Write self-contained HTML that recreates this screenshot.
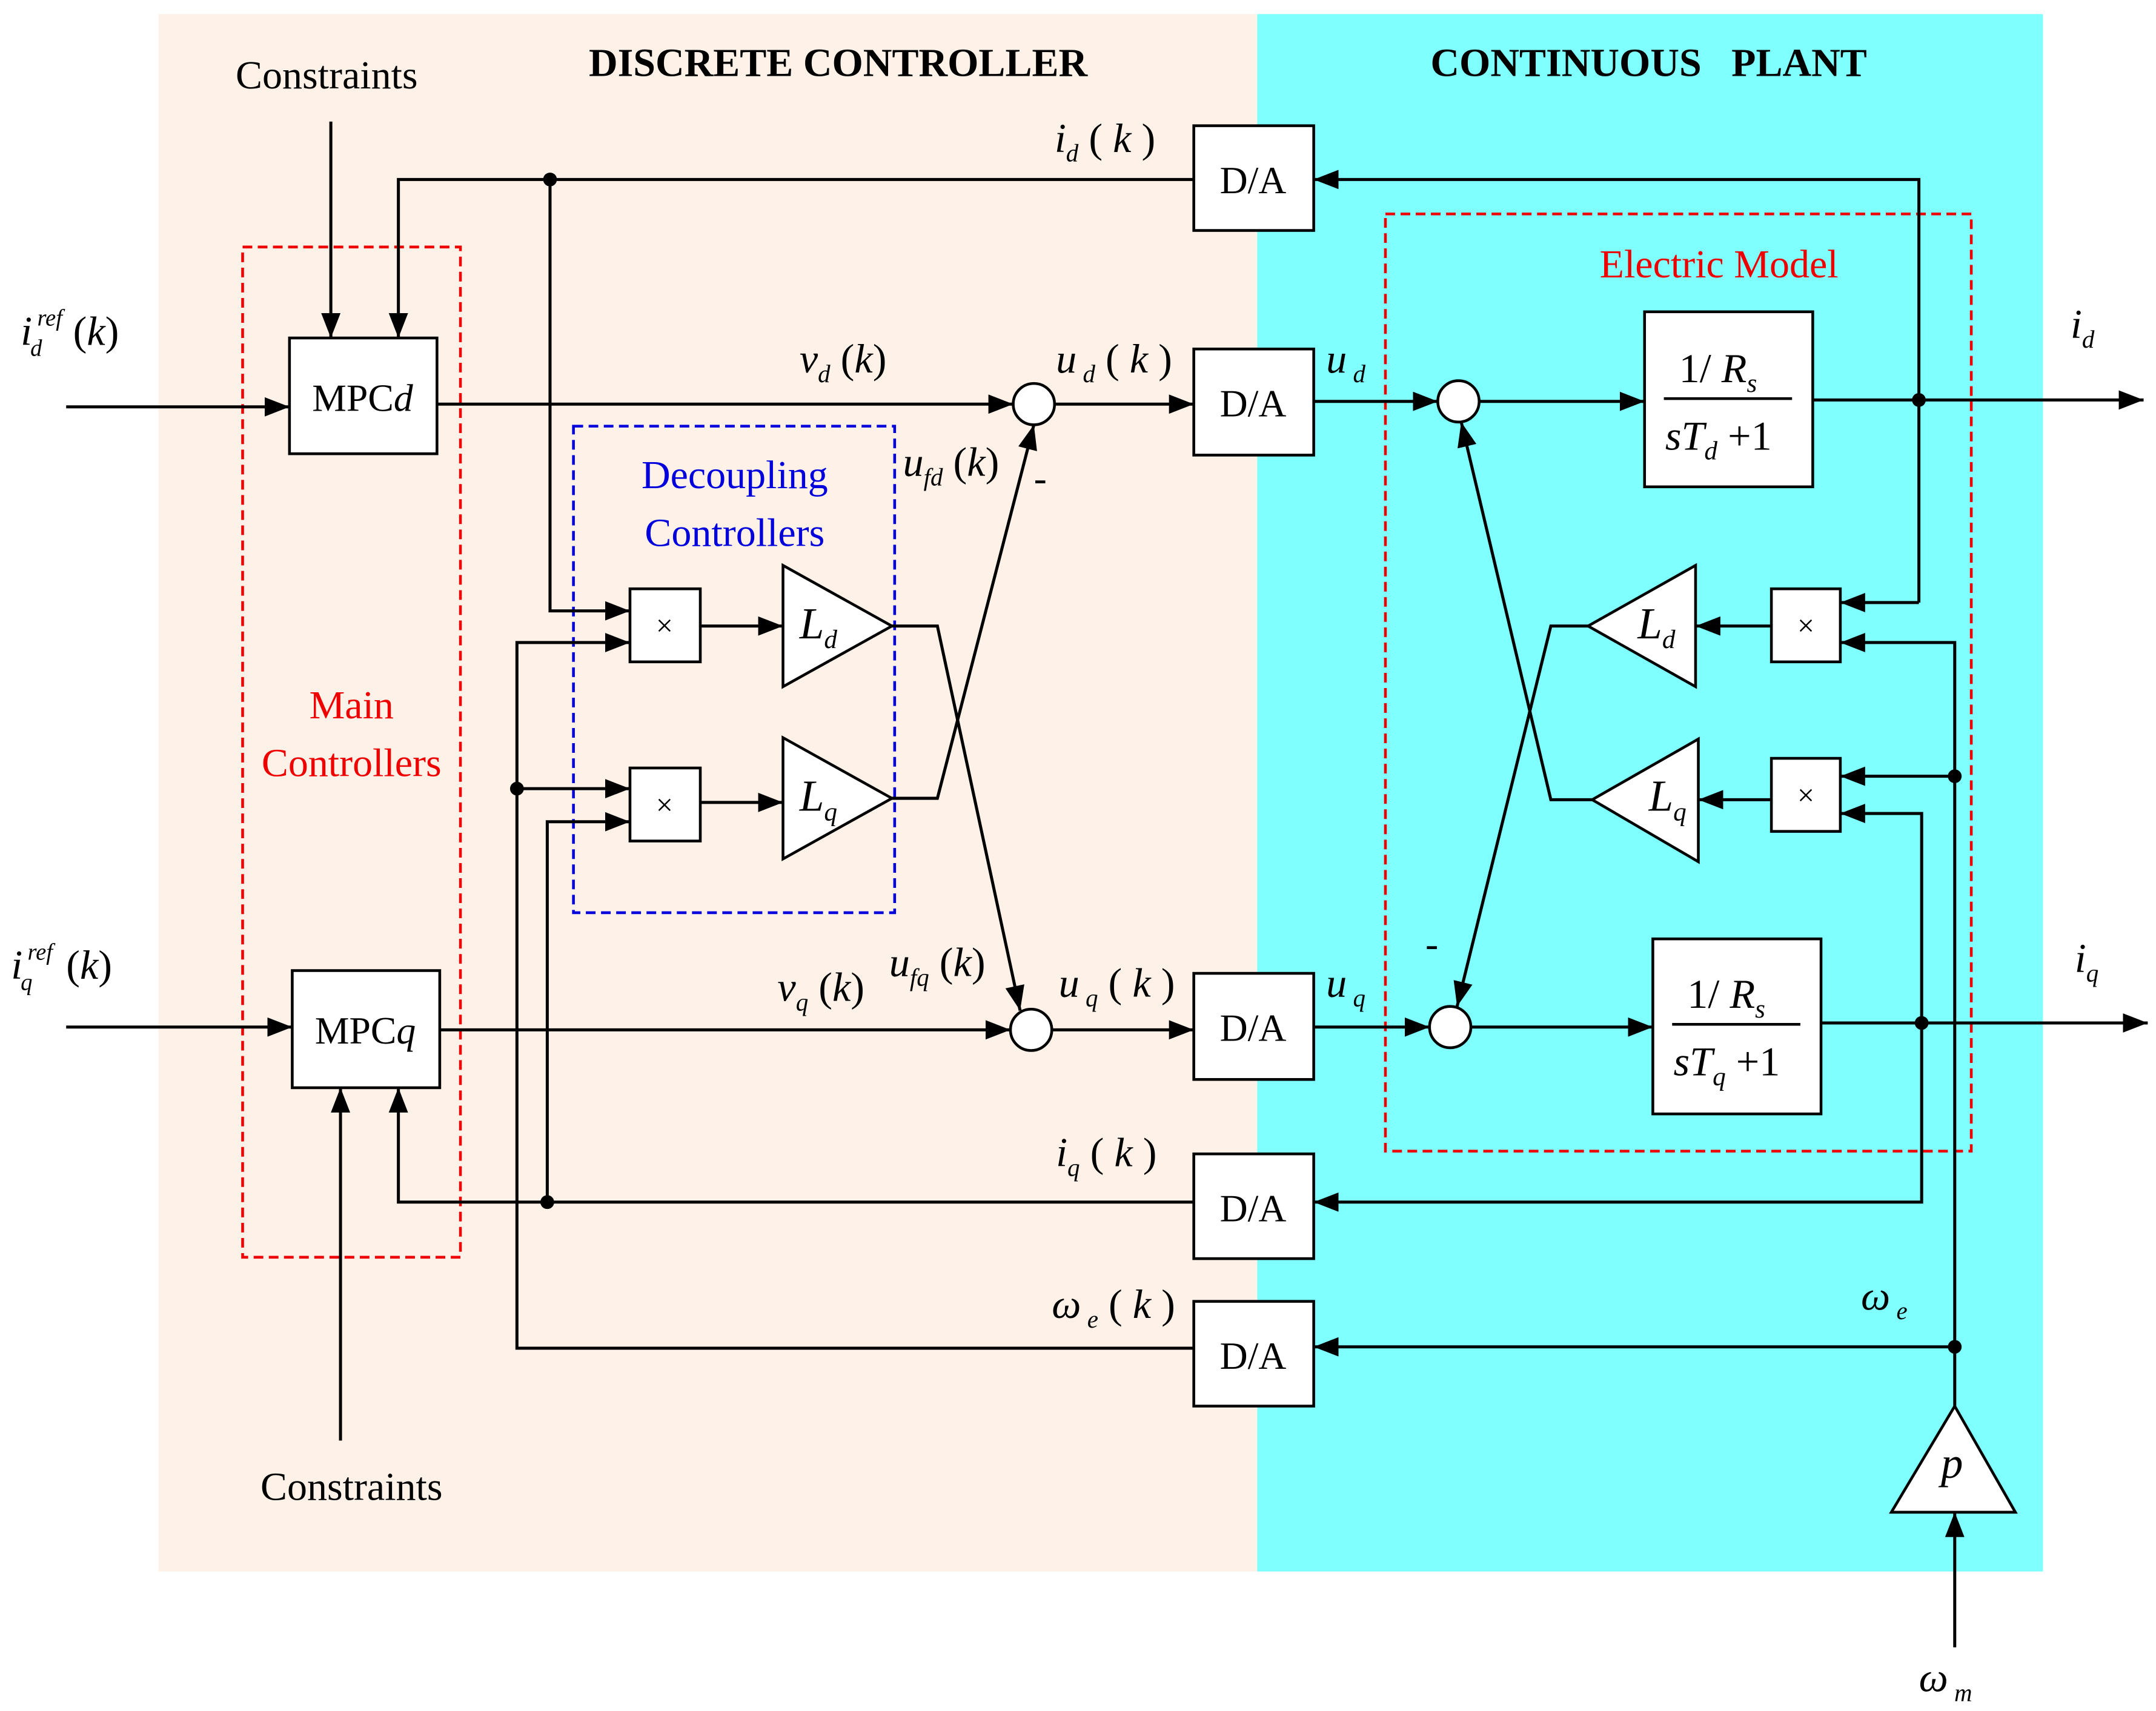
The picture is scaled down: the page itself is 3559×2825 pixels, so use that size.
<!DOCTYPE html>
<html><head><meta charset="utf-8"><style>html,body{margin:0;padding:0;background:#fff}svg{display:block}</style></head>
<body>
<svg width="3559" height="2825" viewBox="0 0 1564 1241" xmlns="http://www.w3.org/2000/svg" font-family="'Liberation Serif', serif">
<defs>
<marker id="a" markerUnits="userSpaceOnUse" markerWidth="20" markerHeight="14" refX="18" refY="7" orient="auto"><path d="M0,0 L18,7 L0,14 z" fill="#000"/></marker>
</defs>
<rect x="0" y="0" width="1564" height="1241" fill="#fff"/>
<rect x="115" y="10" width="797" height="1130" fill="#fdf1e8"/>
<rect x="912" y="10" width="570" height="1130" fill="#80ffff"/>

<g font-weight="bold" font-size="29" text-anchor="middle">
<text x="608" y="55">DISCRETE CONTROLLER</text>
<text x="1196" y="55" xml:space="preserve">CONTINUOUS   PLANT</text>
</g>

<g fill="none" stroke-width="2" stroke-dasharray="7,4">
<rect x="176" y="179" width="158" height="733" stroke="#e00"/>
<rect x="416" y="309" width="233" height="353" stroke="#00d"/>
<rect x="1005" y="155" width="425" height="680" stroke="#e00"/>
</g>

<g font-size="29" text-anchor="middle">
<text x="237" y="64">Constraints</text>
<text x="255" y="1088">Constraints</text>
<text x="255" y="521" fill="#e00">Main</text>
<text x="255" y="563" fill="#e00">Controllers</text>
<text x="533" y="354" fill="#00d">Decoupling</text>
<text x="533" y="396" fill="#00d">Controllers</text>
<text x="1247" y="201" fill="#e00">Electric Model</text>
</g>

<g fill="#fff" stroke="#000" stroke-width="2">
<rect x="210" y="245" width="107" height="84"/>
<rect x="212" y="704" width="107" height="85"/>
<rect x="866" y="91" width="87" height="76"/>
<rect x="866" y="253" width="87" height="77"/>
<rect x="866" y="706" width="87" height="77"/>
<rect x="866" y="837" width="87" height="76"/>
<rect x="866" y="944" width="87" height="76"/>
<rect x="1193" y="226" width="122" height="127"/>
<rect x="1199" y="681" width="122" height="127"/>
<rect x="457" y="427" width="51" height="53"/>
<rect x="457" y="557" width="51" height="53"/>
<rect x="1285" y="427" width="50" height="53"/>
<rect x="1285" y="550" width="50" height="53"/>
<polygon points="568,410 568,498 647,454"/>
<polygon points="568,535 568,623 647,579"/>
<polygon points="1230,410 1230,498 1152,454"/>
<polygon points="1232,536 1232,625 1155,580"/>
<polygon points="1418,1020 1372,1097 1462,1097"/>
<circle cx="750" cy="293" r="15"/>
<circle cx="748" cy="747" r="15"/>
<circle cx="1058" cy="291" r="15"/>
<circle cx="1052" cy="745" r="15"/>
</g>

<g font-size="28" text-anchor="middle">
<text x="263" y="298">MPC<tspan font-style="italic">d</tspan></text>
<text x="265" y="757">MPC<tspan font-style="italic">q</tspan></text>
<text x="909" y="140">D/A</text>
<text x="909" y="302">D/A</text>
<text x="909" y="755">D/A</text>
<text x="909" y="886">D/A</text>
<text x="909" y="993">D/A</text>
<text x="482" y="461" font-size="22">×</text>
<text x="482" y="591" font-size="22">×</text>
<text x="1310" y="461" font-size="22">×</text>
<text x="1310" y="584" font-size="22">×</text>
</g>
<g font-size="32" font-style="italic">
<text x="580" y="463">L<tspan font-size="19" dy="7">d</tspan></text>
<text x="580" y="588">L<tspan font-size="19" dy="7">q</tspan></text>
<text x="1188" y="463">L<tspan font-size="19" dy="7">d</tspan></text>
<text x="1196" y="588">L<tspan font-size="19" dy="7">q</tspan></text>
<text x="1408" y="1072">p</text>
</g>

<g font-size="30">
<text x="1218" y="277">1/ <tspan font-style="italic">R</tspan><tspan font-size="19" dy="7" font-style="italic">s</tspan></text>
<line x1="1207" y1="289" x2="1300" y2="289" stroke="#000" stroke-width="2"/>
<text x="1208" y="326"><tspan font-style="italic">sT</tspan><tspan font-size="19" dy="7" font-style="italic">d</tspan><tspan dy="-7"> +1</tspan></text>
<text x="1224" y="731">1/ <tspan font-style="italic">R</tspan><tspan font-size="19" dy="7" font-style="italic">s</tspan></text>
<line x1="1213" y1="743" x2="1306" y2="743" stroke="#000" stroke-width="2"/>
<text x="1214" y="780"><tspan font-style="italic">sT</tspan><tspan font-size="19" dy="7" font-style="italic">q</tspan><tspan dy="-7"> +1</tspan></text>
</g>

<g fill="none" stroke="#000" stroke-width="2.2">
<line x1="240" y1="88" x2="240" y2="245" marker-end="url(#a)"/>
<line x1="247" y1="1045" x2="247" y2="789" marker-end="url(#a)"/>
<line x1="48" y1="295" x2="210" y2="295" marker-end="url(#a)"/>
<line x1="48" y1="745" x2="212" y2="745" marker-end="url(#a)"/>
<polyline points="1392,290 1392,130 953,130" marker-end="url(#a)"/>
<line x1="1392" y1="290" x2="1392" y2="437"/>
<line x1="1392" y1="437" x2="1335" y2="437" marker-end="url(#a)"/>
<polyline points="866,130 289,130 289,245" marker-end="url(#a)"/>
<polyline points="399,130 399,443 457,443" marker-end="url(#a)"/>
<line x1="317" y1="293" x2="735" y2="293" marker-end="url(#a)"/>
<line x1="765" y1="293" x2="866" y2="293" marker-end="url(#a)"/>
<line x1="953" y1="291" x2="1043" y2="291" marker-end="url(#a)"/>
<line x1="1073" y1="291" x2="1193" y2="291" marker-end="url(#a)"/>
<line x1="1315" y1="290" x2="1555" y2="290" marker-end="url(#a)"/>
<line x1="508" y1="454" x2="568" y2="454" marker-end="url(#a)"/>
<line x1="508" y1="582" x2="568" y2="582" marker-end="url(#a)"/>
<polyline points="647,579 680,579 750,308" marker-end="url(#a)"/>
<polyline points="647,454 680,454 740,733" marker-end="url(#a)"/>
<polyline points="866,978 375,978 375,466 457,466" marker-end="url(#a)"/>
<line x1="375" y1="572" x2="457" y2="572" marker-end="url(#a)"/>
<polyline points="866,872 289,872 289,789" marker-end="url(#a)"/>
<polyline points="397,872 397,596 457,596" marker-end="url(#a)"/>
<line x1="319" y1="747" x2="733" y2="747" marker-end="url(#a)"/>
<line x1="763" y1="747" x2="866" y2="747" marker-end="url(#a)"/>
<line x1="953" y1="745" x2="1037" y2="745" marker-end="url(#a)"/>
<line x1="1067" y1="745" x2="1199" y2="745" marker-end="url(#a)"/>
<line x1="1321" y1="742" x2="1558" y2="742" marker-end="url(#a)"/>
<polyline points="1394,742 1394,872 953,872" marker-end="url(#a)"/>
<polyline points="1394,742 1394,590 1335,590" marker-end="url(#a)"/>
<polyline points="1418,1020 1418,466 1335,466" marker-end="url(#a)"/>
<line x1="1418" y1="563" x2="1335" y2="563" marker-end="url(#a)"/>
<line x1="1418" y1="977" x2="953" y2="977" marker-end="url(#a)"/>
<line x1="1418" y1="1195" x2="1418" y2="1097" marker-end="url(#a)"/>
<line x1="1285" y1="454" x2="1230" y2="454" marker-end="url(#a)"/>
<line x1="1285" y1="580" x2="1232" y2="580" marker-end="url(#a)"/>
<polyline points="1152,454 1125,454 1057,730" marker-end="url(#a)"/>
<polyline points="1155,580 1125,580 1060,306" marker-end="url(#a)"/>
</g>
<g fill="#000">
<circle cx="399" cy="130" r="5"/><circle cx="1392" cy="290" r="5"/>
<circle cx="375" cy="572" r="5"/><circle cx="397" cy="872" r="5"/>
<circle cx="1394" cy="742" r="5"/><circle cx="1418" cy="563" r="5"/>
<circle cx="1418" cy="977" r="5"/>
</g>

<g font-size="30" font-style="italic">
<text x="15" y="250">i</text><text x="27" y="236" font-size="17">ref</text><text x="22" y="258" font-size="17">d</text>
<text x="53" y="250"><tspan font-style="normal">(</tspan>k<tspan font-style="normal">)</tspan></text>
<text x="8" y="710">i</text><text x="20" y="696" font-size="17">ref</text><text x="15" y="718" font-size="17">q</text>
<text x="48" y="710"><tspan font-style="normal">(</tspan>k<tspan font-style="normal">)</tspan></text>
<text x="765" y="110">i<tspan font-size="18" dy="7">d</tspan><tspan dy="-7" font-style="normal"> (</tspan> k <tspan font-style="normal">)</tspan></text>
<text x="580" y="270">v<tspan font-size="18" dy="7">d</tspan><tspan dy="-7" font-style="normal"> (</tspan>k<tspan font-style="normal">)</tspan></text>
<text x="766" y="270">u<tspan font-size="18" dy="7"> d</tspan><tspan dy="-7" font-style="normal"> (</tspan> k <tspan font-style="normal">)</tspan></text>
<text x="962" y="270">u<tspan font-size="18" dy="7"> d</tspan></text>
<text x="655" y="345">u<tspan font-size="18" dy="7">fd</tspan><tspan dy="-7" font-style="normal"> (</tspan>k<tspan font-style="normal">)</tspan></text>
<text x="564" y="726">v<tspan font-size="18" dy="7">q</tspan><tspan dy="-7" font-style="normal"> (</tspan>k<tspan font-style="normal">)</tspan></text>
<text x="645" y="708">u<tspan font-size="18" dy="7">fq</tspan><tspan dy="-7" font-style="normal"> (</tspan>k<tspan font-style="normal">)</tspan></text>
<text x="768" y="723">u<tspan font-size="18" dy="7"> q</tspan><tspan dy="-7" font-style="normal"> (</tspan> k <tspan font-style="normal">)</tspan></text>
<text x="962" y="723">u<tspan font-size="18" dy="7"> q</tspan></text>
<text x="766" y="846">i<tspan font-size="18" dy="7">q</tspan><tspan dy="-7" font-style="normal"> (</tspan> k <tspan font-style="normal">)</tspan></text>
<text x="763" y="956">ω<tspan font-size="18" dy="7"> e</tspan><tspan dy="-7" font-style="normal"> (</tspan> k <tspan font-style="normal">)</tspan></text>
<text x="1350" y="950">ω<tspan font-size="18" dy="7"> e</tspan></text>
<text x="1392" y="1227">ω<tspan font-size="18" dy="7"> m</tspan></text>
<text x="1502" y="245">i<tspan font-size="18" dy="7">d</tspan></text>
<text x="1505" y="705">i<tspan font-size="18" dy="7">q</tspan></text>
</g>
<g font-size="28"><text x="750" y="356">-</text><text x="1034" y="694">-</text></g>
</svg>
</body></html>
